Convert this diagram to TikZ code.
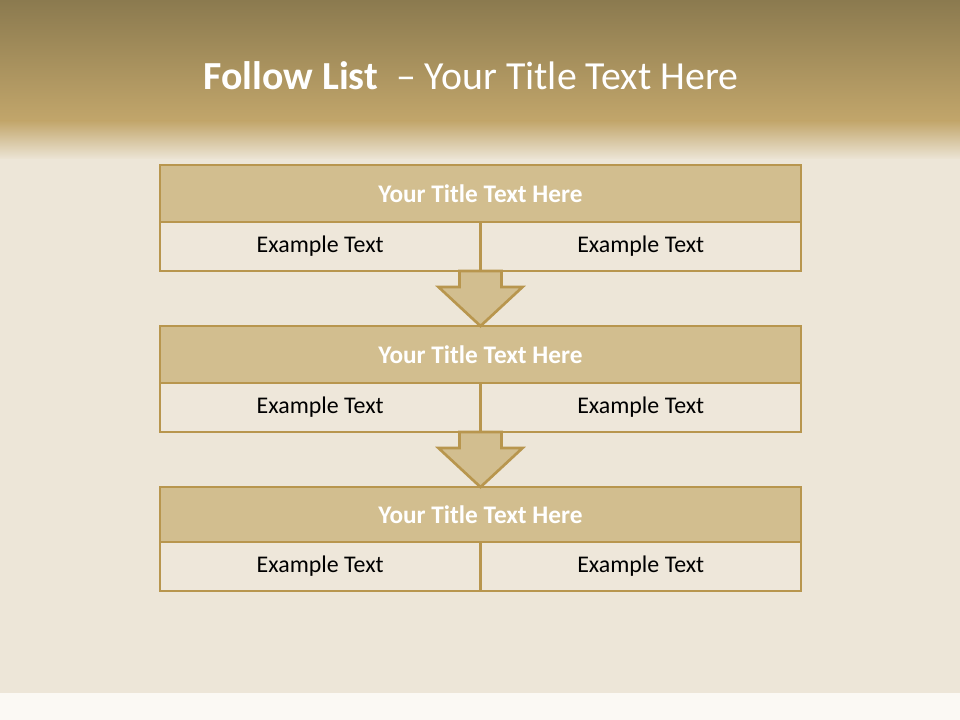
\documentclass[tikz,border=0pt]{standalone}
\usepackage{fontspec}
\setmainfont{Carlito}
\usepackage{xcolor}
\usepackage{tikz}
\usetikzlibrary{positioning, calc}

\definecolor{bandtop}{HTML}{8B7A4F}
\definecolor{bandlow}{HTML}{C2A66B}
\definecolor{paper}{HTML}{EDE6D8}
\definecolor{paperlow}{HTML}{FBF9F4}
\definecolor{goldline}{HTML}{B8964E}
\definecolor{goldfill}{HTML}{D2BE8F}
\definecolor{cellfill}{HTML}{EEE7DA}

\begin{document}
\begin{tikzpicture}[
    x=0.025cm, y=-0.025cm,
    every node/.style={font=\fontsize{17}{20}\selectfont},
    head/.style={draw=goldline, line width=1.9pt, fill=goldfill, text=white,
                 minimum width=16.025cm, minimum height=1.425cm, inner sep=0pt, outer sep=0pt,
                 font=\fontsize{18}{22}\selectfont\bfseries},
    cell/.style={draw=goldline, line width=1.9pt, fill=cellfill, text=black,
                 minimum width=8.0125cm, minimum height=1.225cm, inner sep=0pt, outer sep=0pt},
    flow/.style={draw=goldline, line width=1.9pt, fill=goldfill, line join=miter},
]
\useasboundingbox (0,0) rectangle (960,720);

% --- Background ---
\shade[top color=bandtop, bottom color=bandlow] (0,0) rectangle (960,122);
\shade[top color=bandlow, bottom color=paper] (0,121) rectangle (960,160);
\fill[paper] (0,159) rectangle (960,693);
\fill[paperlow] (0,693) rectangle (960,720);

% --- Title ---
\node[text=white, font=\fontsize{28.3}{34}\selectfont] (title) at (471,76)
    {\textbf{Follow List}\ \ – Your Title Text Here};

% --- Step 1 ---
\node[head] (t1) at (480.5,193.5) {Your Title Text Here};
\node[cell, anchor=north west] (l1) at (t1.south west) {Example Text};
\node[cell, right=0pt of l1]   (r1) {Example Text};

% --- Step 2 ---
\node[head, below=1.375cm of l1.south east] (t2) {Your Title Text Here};
\node[cell, anchor=north west] (l2) at (t2.south west) {Example Text};
\node[cell, right=0pt of l2]   (r2) {Example Text};

% --- Step 3 ---
\node[head, below=1.375cm of l2.south east, minimum height=1.375cm] (t3) {Your Title Text Here};
\node[cell, anchor=north west] (l3) at (t3.south west) {Example Text};
\node[cell, right=0pt of l3]   (r3) {Example Text};

% --- Arrows ---
\draw[flow] ($(l1.south east)+(-21,0)$) -- ++(0,16) -- ++(-21,0) -- (t2.north)
    -- ($(l1.south east)+(42,16)$) -- ++(-21,0) -- ++(0,-16) -- cycle;
\draw[flow] ($(l2.south east)+(-21,0)$) -- ++(0,16) -- ++(-21,0) -- (t3.north)
    -- ($(l2.south east)+(42,16)$) -- ++(-21,0) -- ++(0,-16) -- cycle;
\end{tikzpicture}
\end{document}
